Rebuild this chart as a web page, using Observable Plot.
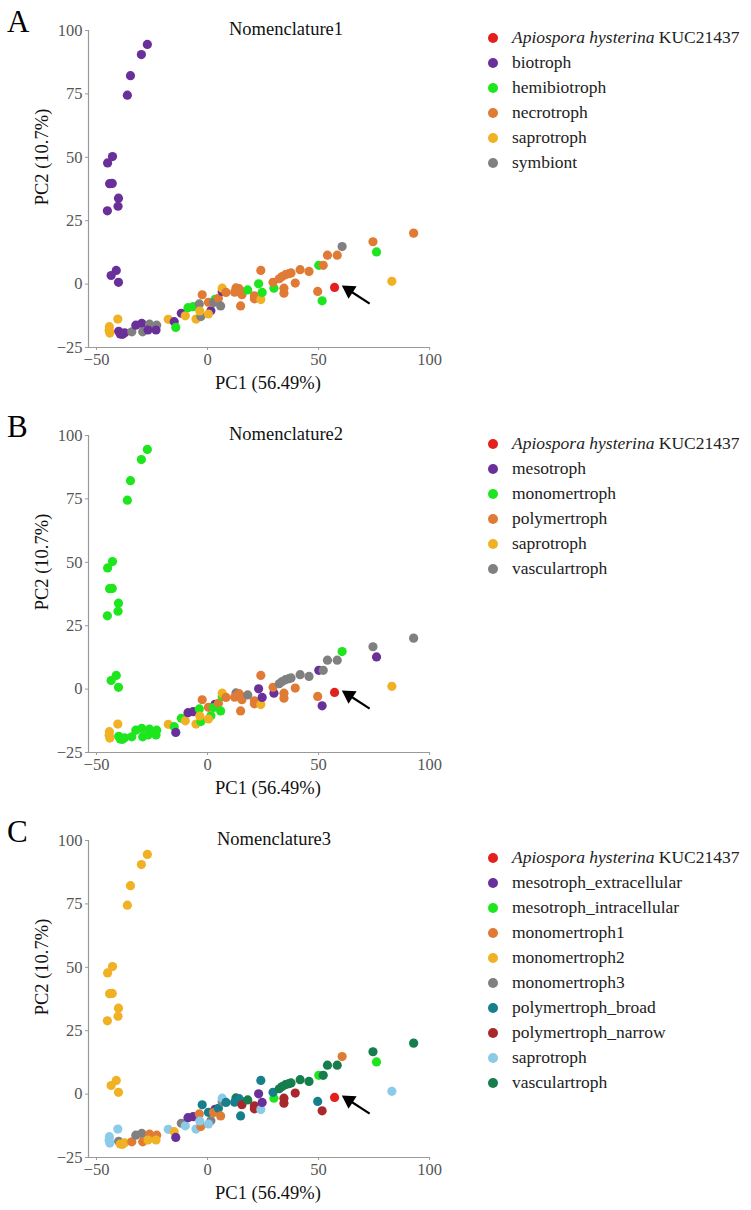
<!DOCTYPE html>
<html>
<head>
<meta charset="utf-8">
<script src="https://cdn.jsdelivr.net/npm/d3@7"></script>
<script src="https://cdn.jsdelivr.net/npm/@observablehq/plot@0.6"></script>
<style>
  body { margin: 0; background: #fff; font-family: "Liberation Serif", "DejaVu Serif", serif; }
  .panel { position: relative; width: 751px; height: 405px; }
  .panel svg { position: absolute; left: 0; top: 0; }
  .letter { position: absolute; left: 7px; font-size: 31px; line-height: 1; color: #000; }
  .title { position: absolute; font-size: 18.5px; line-height: 1; transform: translate(-50%, -50%); color: #111; white-space: nowrap; }
  .xlab { position: absolute; left: 268px; font-size: 18.5px; transform: translate(-50%, -50%); color: #111; white-space: nowrap; }
  .ylab { position: absolute; left: 42px; font-size: 18.5px; transform: translate(-50%, -50%) rotate(-90deg); color: #111; white-space: nowrap; }
  .legend { position: absolute; left: 488px; }
  .legend .row { height: 25px; display: flex; align-items: center; font-size: 17.5px; color: #222; white-space: nowrap; }
  .legend .sw { width: 10px; height: 10px; border-radius: 50%; margin-right: 14px; flex: none; }
</style>
</head>
<body>
<div id="fig"></div>
<script>
// PCA scores (PC1, PC2) for each genome, shared by all three panels
const pc1 = [
  -27.1, -29.8, -34.7, -36.1, -42.8, -45.0, -44.1, -42.9, -40.1, -40.3, -45.1, -41.1, -43.4, -40.1,
  -44.2, -44.3, -44.0, -40.4,
  -40.0, -39.3, -38.3, -37.3, -34.1, -32.3, -29.6, -29.2, -26.1, -26.8, -22.9, -23.2,
  -17.7, -15.0, -14.3, -11.8, -10.0, -8.8, -6.5, -5.2, -3.7, -3.0, -3.5, 1.5, 0.4,
  -2.4, 0.4, 3.4, 2.7, 4.9, 5.9, 6.6, 6.6, 8.3,
  12.8, 14.2, 12.2, 15.4, 14.9, 15.5, 18.1, 21.1, 21.1, 24.0, 24.0, 23.0, 24.6,
  29.9, 29.5, 32.3, 33.6, 35.1, 36.6, 37.6, 34.4, 34.4, 39.5, 41.7, 45.7,
  49.6, 50.1, 52.1, 51.6, 54.0, 58.4, 60.6, 74.5, 76.1, 83.0, 92.8, 57.2
];
const pc2 = [
  94.5, 90.5, 82.2, 74.5, 50.3, 47.8, 39.6, 39.7, 33.9, 30.7, 28.9, 5.4, 3.4, 0.7,
  -16.8, -18.2, -19.3, -13.8,
  -18.6, -19.7, -19.8, -19.2, -18.8, -16.2, -15.5, -18.8, -15.8, -18.1, -16.2, -18.1,
  -13.9, -14.8, -17.1, -11.5, -12.5, -9.3, -8.9, -13.8, -7.8, -12.8, -10.6, -10.5, -11.8,
  -4.2, -7.2, -6.0, -7.3, -5.6, -8.6, -2.9, -1.6, -3.3,
  -1.5, -1.8, -3.2, -3.0, -8.6, -4.2, -2.3, -4.6, -5.8, -6.1, 5.4, 0.1, -3.3,
  -1.6, 0.7, 2.1, 3.0, 3.7, 4.1, 4.4, -1.6, -3.6, 0.4, 5.7, 5.0,
  -2.9, 7.4, 7.4, -6.6, 11.4, 11.4, 14.8, 16.7, 12.7, 1.1, 20.1, -1.3
];

// Nomenclature 1 classes
const names1 = ["Apiospora hysterina KUC21437", "biotroph", "hemibiotroph", "necrotroph", "saprotroph", "symbiont"];
const colors1 = ["#e3201e", "#6a3099", "#1ee61e", "#e07b35", "#f0b125", "#808080"];
const class1 = [
  1,1,1,1,1,1,1,1,1,1,1,1,1,1,
  4,4,4,4,
  1,1,1,1,5,1,1,5,5,1,5,1,
  4,1,2,1,4,2,2,4,5,5,4,1,4,
  3,3,2,5,3,5,1,4,3,
  3,3,3,3,3,3,2,3,3,4,3,2,2,
  2,3,3,3,3,3,3,3,3,3,3,3,
  3,2,3,2,3,3,5,3,2,4,3,0
];

// Nomenclature 2 classes
const names2 = ["Apiospora hysterina KUC21437", "mesotroph", "monomertroph", "polymertroph", "saprotroph", "vasculartroph"];
const colors2 = ["#e3201e", "#6a3099", "#1ee61e", "#e07b35", "#f0b125", "#808080"];
const class2 = [
  2,2,2,2,2,2,2,2,2,2,2,2,2,2,
  4,4,4,4,
  2,2,2,2,2,2,2,2,2,2,2,2,
  4,2,1,2,4,1,1,4,2,2,4,2,4,
  3,3,1,2,3,2,2,4,3,
  5,3,3,3,3,3,5,3,3,4,3,1,1,
  1,3,5,5,5,5,5,3,3,3,5,5,
  3,1,5,1,5,5,2,5,1,4,5,0
];

// Nomenclature 3 classes
const names3 = ["Apiospora hysterina KUC21437", "mesotroph_extracellular", "mesotroph_intracellular", "monomertroph1",
  "monomertroph2", "monomertroph3", "polymertroph_broad", "polymertroph_narrow", "saprotroph", "vasculartroph"];
const colors3 = ["#e3201e", "#6a3099", "#1ee61e", "#e07b35", "#f0b125", "#808080", "#177e8c", "#a8282b", "#8ccbe8", "#167d4c"];
const class3 = [
  4,4,4,4,4,4,4,4,4,4,4,4,4,4,
  8,8,8,8,
  5,4,4,4,3,5,5,3,3,4,3,4,
  8,4,1,5,8,1,1,8,3,3,8,5,8,
  6,6,1,3,6,3,5,8,6,
  9,6,6,6,6,7,9,7,7,8,6,1,1,
  2,6,9,9,9,9,9,7,7,7,9,9,
  6,2,9,7,9,9,3,9,2,8,9,0
];

const xTicks = [-50, 0, 50, 100];
const yTicks = [-25, 0, 25, 50, 75, 100];
const xDomain = [-53.6, 100.4];
const yDomain = [-25, 100];

const panels = [
  {letter: "A", title: "Nomenclature1", titleX: 286, names: names1, colors: colors1, cls: class1, legendTop: 25},
  {letter: "B", title: "Nomenclature2", titleX: 286, names: names2, colors: colors2, cls: class2, legendTop: 26},
  {letter: "C", title: "Nomenclature3", titleX: 274, names: names3, colors: colors3, cls: class3, legendTop: 35}
];

const fig = document.getElementById("fig");

for (const p of panels) {
  const rows = pc1.map((x, i) => ({x, y: pc2[i], g: p.names[p.cls[i]]}));
  // the highlighted strain is drawn last so it sits on top
  rows.sort((a, b) => (a.g === p.names[0]) - (b.g === p.names[0]));
  const focus = rows.find(d => d.g === p.names[0]);
  // pointer arrow next to the highlighted strain
  const arrow = [{x1: focus.x + 15.8, y1: focus.y - 6.4, x2: focus.x + 7.4, y2: focus.y - 1.6, hx: focus.x + 6.5, hy: focus.y - 1.1}];

  const div = document.createElement("div");
  div.className = "panel";
  fig.appendChild(div);

  const chart = Plot.plot({
    width: 445,
    height: 400,
    marginLeft: 88,
    marginRight: 15,
    marginTop: 30,
    marginBottom: 53,
    x: {domain: xDomain},
    y: {domain: yDomain},
    color: {domain: p.names, range: p.colors},
    style: {fontFamily: "'Liberation Serif', 'DejaVu Serif', serif", fontSize: "16.5px", background: "transparent"},
    marks: [
      Plot.ruleX([xDomain[0]], {stroke: "#9a9a9a", strokeWidth: 1.2}),
      Plot.ruleY([yDomain[0]], {stroke: "#9a9a9a", strokeWidth: 1.2}),
      Plot.axisX({ticks: xTicks, tickSize: 3, tickPadding: 3, label: null, color: "#555", stroke: "#9a9a9a"}),
      Plot.axisY({ticks: yTicks, tickSize: 3, tickPadding: 3, label: null, color: "#555", stroke: "#9a9a9a"}),
      Plot.dot(rows, {x: "x", y: "y", fill: "g", r: 4.6, stroke: "none"}),
      Plot.link(arrow, {x1: "x1", y1: "y1", x2: "x2", y2: "y2", stroke: "#000", strokeWidth: 2.2}),
      Plot.dot(arrow, {x: "hx", y: "hy", symbol: "triangle", rotate: -57, r: 5.5, fill: "#000", stroke: "none"})
    ]
  });
  div.appendChild(chart);

  const letter = document.createElement("div");
  letter.className = "letter";
  letter.style.top = "6px";
  letter.textContent = p.letter;
  div.appendChild(letter);

  const title = document.createElement("div");
  title.className = "title";
  title.style.left = p.titleX + "px";
  title.style.top = "29px";
  title.textContent = p.title;
  div.appendChild(title);

  const ylab = document.createElement("div");
  ylab.className = "ylab";
  ylab.style.top = "157px";
  ylab.textContent = "PC2 (10.7%)";
  div.appendChild(ylab);

  const xlab = document.createElement("div");
  xlab.className = "xlab";
  xlab.style.top = "383px";
  xlab.textContent = "PC1 (56.49%)";
  div.appendChild(xlab);

  const legend = document.createElement("div");
  legend.className = "legend";
  legend.style.top = p.legendTop + "px";
  p.names.forEach((name, i) => {
    const row = document.createElement("div");
    row.className = "row";
    const sw = document.createElement("span");
    sw.className = "sw";
    sw.style.background = p.colors[i];
    row.appendChild(sw);
    const label = document.createElement("span");
    if (i === 0) {
      label.innerHTML = "<i>Apiospora hysterina</i> KUC21437";
    } else {
      label.textContent = name;
    }
    row.appendChild(label);
    legend.appendChild(row);
  });
  div.appendChild(legend);
}
</script>
</body>
</html>
